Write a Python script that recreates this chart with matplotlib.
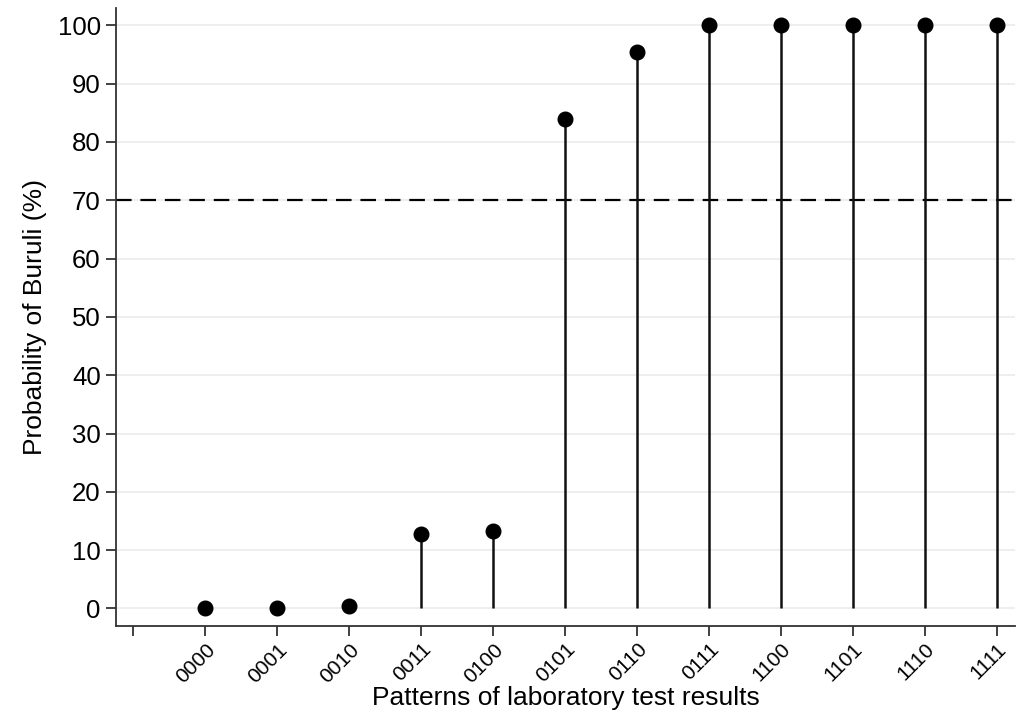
import numpy as np
import matplotlib.pyplot as plt

plt.rcParams['font.family'] = ['Liberation Sans', 'DejaVu Sans']

patterns = ['0000', '0001', '0010', '0011', '0100', '0101',
            '0110', '0111', '1100', '1101', '1110', '1111']
prob = [0.0, 0.1, 0.4, 12.8, 13.2, 84.0, 95.4, 100, 100, 100, 100, 100]
cutoff = 70

fig = plt.figure(figsize=(10.18, 7.17), dpi=100)
ax = fig.add_axes([0.114, 0.127, 0.883, 0.862])

x = np.arange(1, len(patterns) + 1)
ax.vlines(x, 0, prob, color='#111111', lw=1.8, zorder=3)
ax.plot(x, prob, 'o', color='black', ms=10.5, zorder=4)
ax.axhline(cutoff, color='black', lw=1.6, ls=(0, (7, 4)), zorder=2)

ax.set_xlim(-0.24, 12.25)
ax.set_ylim(-3, 103)
ax.set_yticks(range(0, 101, 10))
ax.set_xticks(range(0, len(patterns) + 1))
ax.set_xticklabels([''] + patterns, rotation=45, ha='right',
                   rotation_mode='anchor', fontsize=15)
ax.tick_params(axis='y', labelsize=18.5, length=7, width=1.3, color='#333333', pad=4)
ax.tick_params(axis='x', length=7, width=1.3, color='#333333', pad=3)
ax.grid(axis='y', color='#ebebeb', lw=1.2, zorder=0)

for s in ['top', 'right']:
    ax.spines[s].set_visible(False)
for s in ['left', 'bottom']:
    ax.spines[s].set_color('#333333')
    ax.spines[s].set_linewidth(1.3)

ax.set_ylabel('Probability of Buruli (%)', fontsize=19, labelpad=8)
ax.set_xlabel('Patterns of laboratory test results', fontsize=19, labelpad=0)

fig.savefig('out.png', dpi=100)
